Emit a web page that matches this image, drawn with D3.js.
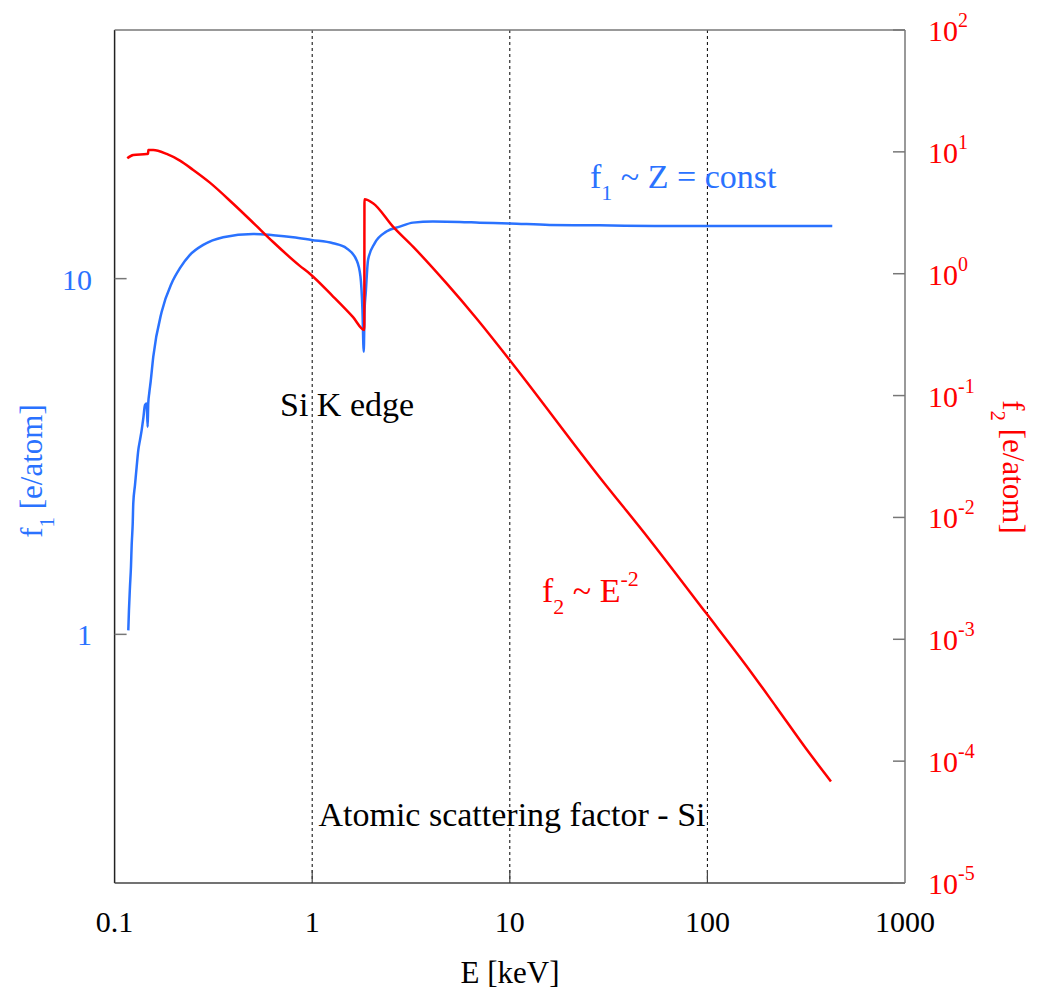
<!DOCTYPE html>
<html lang="en">
<head>
    <meta charset="UTF-8">
    <title>Atomic scattering factor - Si</title>
    <script src="https://d3js.org/d3.v7.min.js"></script>
    <style>
        body { margin: 0; background: white; }
    </style>
</head>
<body>
    <div id="chart"></div>
    <script>
        // f1 (left axis), energies in keV
        const energyF1 = [0.1173, 0.1182, 0.1196, 0.1210, 0.1220, 0.1235, 0.1243, 0.1268, 0.1293, 0.1318,
            0.1344, 0.1371, 0.1397, 0.1425, 0.1453, 0.1470, 0.1480, 0.1497, 0.1522, 0.1569,
            0.1731, 0.1944, 0.2141, 0.2406, 0.2808, 0.3544, 0.5025, 0.6343, 0.8008, 0.992,
            1.276, 1.491, 1.675, 1.755, 1.796, 1.823, 1.841, 1.866, 1.917, 2.073,
            2.375, 2.774, 3.237, 4.085, 5.573, 7.036, 9.98, 15.9, 28.4, 54.0, 428.5];
        const f1Values = [1.026, 1.168, 1.359, 1.547, 1.780, 2.049, 2.333, 2.627, 2.957, 3.296,
            3.516, 3.752, 4.047, 4.41, 4.46, 3.83, 4.46, 4.76, 5.13, 6.03,
            8.07, 9.71, 10.70, 11.66, 12.44, 13.08, 13.36, 13.25, 13.08, 12.85,
            12.58, 12.18, 11.29, 10.13, 8.17, 6.23, 8.17, 9.10, 11.29, 12.58,
            13.56, 14.0, 14.37, 14.47, 14.44, 14.37, 14.30, 14.16, 14.12, 14.07, 14.05];

        // f2 (right axis)
        const energyF2 = [0.1159, 0.1243, 0.1453, 0.1478, 0.1480, 0.1569, 0.1834, 0.2141, 0.2500, 0.3035,
            0.3983, 0.5025, 0.6343, 0.8657, 0.9725, 1.276, 1.610, 1.835, 1.839, 2.032,
            2.564, 3.237, 4.775, 6.77, 9.98, 28.4, 50.9, 98.5, 157.0,
            222.5, 328, 422];
        const f2Values = [8.86, 9.43, 9.61, 9.65, 10.36, 10.36, 9.61, 8.47, 7.10, 5.59,
            3.75, 2.62, 1.82, 1.16, 1.0, 0.650, 0.440, 0.346, 4.085, 3.79,
            2.434, 1.668, 0.836, 0.431, 0.196, 0.0215, 0.0066, 0.00164, 6.1e-4,
            2.8e-4, 1.165e-4, 6.82e-5];

        const xTicks = [0.1, 1, 10, 100, 1000];
        const xTickLabels = ["0.1", "1", "10", "100", "1000"];
        const gridValues = [1, 10, 100];
        const leftTicks = [1, 10];
        const leftTickLabels = ["1", "10"];
        const rightExponents = [2, 1, 0, -1, -2, -3, -4, -5];

        const width = 1041, height = 992;
        const plot = { left: 114.6, right: 905, top: 30, bottom: 883 };
        const blue = "#2a72ff", red = "#ff0000";
        const serif = "'Liberation Serif', 'DejaVu Serif', serif";

        const svg = d3.select("#chart").append("svg")
            .attr("width", width)
            .attr("height", height)
            .style("font-family", serif);

        const x = d3.scaleLog().domain([0.1, 1000]).range([plot.left, plot.right]);
        const yL = d3.scaleLog().domain([0.2, 50]).range([plot.bottom, plot.top]);
        const yR = d3.scaleLog().domain([1e-5, 1e2]).range([plot.bottom, plot.top]);

        // dotted grid lines
        svg.selectAll(".grid")
            .data(gridValues)
            .enter().append("line")
            .attr("x1", d => x(d)).attr("x2", d => x(d))
            .attr("y1", plot.top).attr("y2", plot.bottom)
            .attr("stroke", "#000").attr("stroke-width", 1)
            .attr("stroke-dasharray", "3,3");

        // frame
        const frame = [
            [plot.left, plot.top, plot.left, plot.bottom, "#222"],
            [plot.left, plot.bottom, plot.right, plot.bottom, "#444"],
            [plot.right, plot.top, plot.right, plot.bottom, "#777"],
            [plot.left, plot.top, plot.right, plot.top, "#777"]
        ];
        svg.selectAll(".frame")
            .data(frame)
            .enter().append("line")
            .attr("x1", d => d[0]).attr("y1", d => d[1])
            .attr("x2", d => d[2]).attr("y2", d => d[3])
            .attr("stroke", d => d[4]).attr("stroke-width", 1.5);

        // bottom ticks
        svg.selectAll(".xtick")
            .data(gridValues)
            .enter().append("line")
            .attr("x1", d => x(d)).attr("x2", d => x(d))
            .attr("y1", plot.bottom).attr("y2", plot.bottom - 13)
            .attr("stroke", "#444").attr("stroke-width", 1.2);

        svg.selectAll(".xlabel")
            .data(xTicks)
            .enter().append("text")
            .attr("x", d => x(d))
            .attr("y", 932)
            .attr("text-anchor", "middle")
            .attr("font-size", 30)
            .attr("fill", "#000")
            .text((d, i) => xTickLabels[i]);

        // left ticks
        svg.selectAll(".ltick")
            .data(leftTicks)
            .enter().append("line")
            .attr("x1", plot.left).attr("x2", plot.left + 12)
            .attr("y1", d => yL(d)).attr("y2", d => yL(d))
            .attr("stroke", "#777").attr("stroke-width", 1.5);

        svg.selectAll(".llabel")
            .data(leftTicks)
            .enter().append("text")
            .attr("x", 92)
            .attr("y", d => yL(d) + 11)
            .attr("text-anchor", "end")
            .attr("font-size", 30)
            .attr("fill", blue)
            .text((d, i) => leftTickLabels[i]);

        // right ticks
        svg.selectAll(".rtick")
            .data(rightExponents)
            .enter().append("line")
            .attr("x1", plot.right - 12).attr("x2", plot.right)
            .attr("y1", d => yR(Math.pow(10, d))).attr("y2", d => yR(Math.pow(10, d)))
            .attr("stroke", "#777").attr("stroke-width", 1.5);

        const rl = svg.selectAll(".rlabel")
            .data(rightExponents)
            .enter().append("text")
            .attr("x", 928)
            .attr("y", d => yR(Math.pow(10, d)) + 11)
            .attr("font-size", 30)
            .attr("fill", red);
        rl.append("tspan").text("10");
        rl.append("tspan")
            .attr("dy", -14)
            .attr("font-size", 20)
            .text(d => d);

        // curves
        const lineF1 = d3.line()
            .x((d, i) => x(energyF1[i]))
            .y(d => yL(d))
            .curve(d3.curveMonotoneX);
        const lineF2 = d3.line()
            .x((d, i) => x(energyF2[i]))
            .y(d => yR(d))
            .curve(d3.curveMonotoneX);

        svg.append("path")
            .attr("d", lineF1(f1Values))
            .attr("fill", "none")
            .attr("stroke", blue)
            .attr("stroke-width", 2.5)
            .attr("stroke-linejoin", "round");

        svg.append("path")
            .attr("d", lineF2(f2Values))
            .attr("fill", "none")
            .attr("stroke", red)
            .attr("stroke-width", 2.5)
            .attr("stroke-linejoin", "round");

        // annotations
        svg.append("text")
            .attr("x", 280).attr("y", 416)
            .attr("font-size", 34)
            .attr("fill", "#000")
            .text("Si K edge");

        svg.append("text")
            .attr("x", 512).attr("y", 826)
            .attr("text-anchor", "middle")
            .attr("font-size", 34)
            .attr("fill", "#000")
            .text("Atomic scattering factor - Si");

        const t1 = svg.append("text")
            .attr("x", 590).attr("y", 188)
            .attr("font-size", 34)
            .attr("fill", blue);
        t1.append("tspan").text("f");
        t1.append("tspan").attr("dy", 12).attr("font-size", 22).text("1");
        t1.append("tspan").attr("dy", -12).text(" ~ Z = const");

        const t2 = svg.append("text")
            .attr("x", 542).attr("y", 602)
            .attr("font-size", 34)
            .attr("fill", red);
        t2.append("tspan").text("f");
        t2.append("tspan").attr("dy", 12).attr("font-size", 22).text("2");
        t2.append("tspan").attr("dy", -12).text(" ~ E");
        t2.append("tspan").attr("dy", -16).attr("font-size", 22).text("-2");

        // axis titles
        svg.append("text")
            .attr("x", 510).attr("y", 983)
            .attr("text-anchor", "middle")
            .attr("font-size", 31)
            .attr("fill", "#000")
            .text("E [keV]");

        const lt = svg.append("text")
            .attr("transform", "translate(42,471) rotate(-90)")
            .attr("text-anchor", "middle")
            .attr("font-size", 31)
            .attr("fill", blue);
        lt.append("tspan").text("f");
        lt.append("tspan").attr("dy", 12).attr("font-size", 21).text("1");
        lt.append("tspan").attr("dy", -12).text(" [e/atom]");

        const rt = svg.append("text")
            .attr("transform", "translate(1003,467) rotate(90)")
            .attr("text-anchor", "middle")
            .attr("font-size", 31)
            .attr("fill", red);
        rt.append("tspan").text("f");
        rt.append("tspan").attr("dy", 12).attr("font-size", 21).text("2");
        rt.append("tspan").attr("dy", -12).text(" [e/atom]");
    </script>
</body>
</html>
